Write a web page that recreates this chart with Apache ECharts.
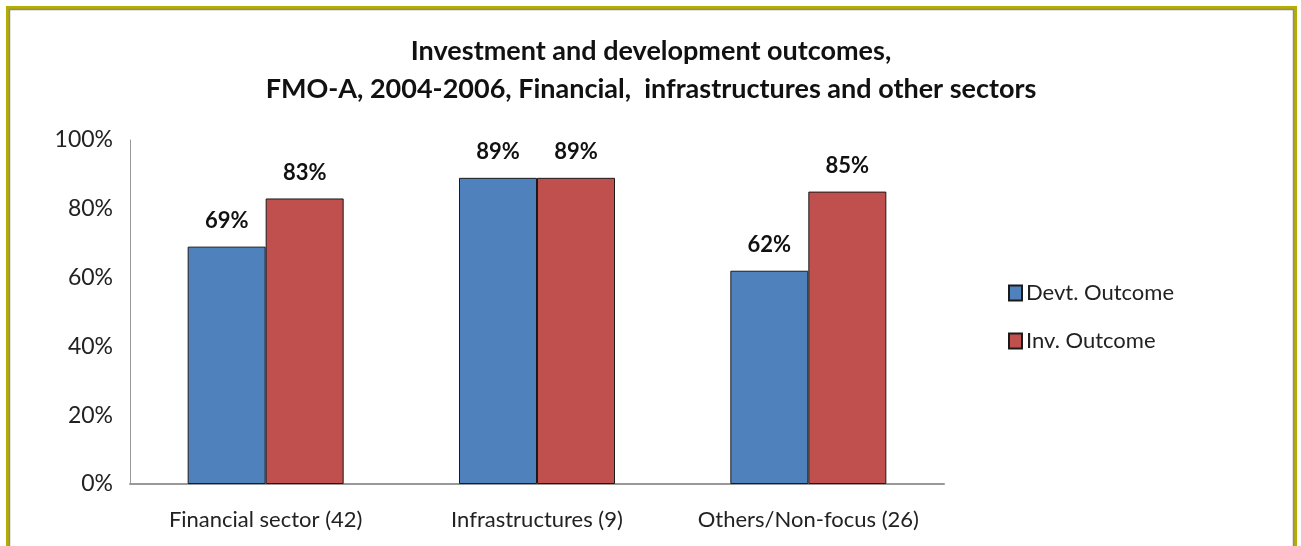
<!DOCTYPE html>
<html>
<head>
<meta charset="utf-8">
<script src="https://cdn.jsdelivr.net/npm/echarts@6/dist/echarts.min.js"></script>
<style>
html,body{margin:0;padding:0;background:#fff;}
#c{width:1301px;height:546px;}
</style>
</head>
<body>
<div id="c"></div>
<script>
var categories = ['Financial sector (42)', 'Infrastructures (9)', 'Others/Non-focus (26)'];
var devtOutcome = [69, 89, 62];
var invOutcome = [83, 89, 85];
var seriesNames = ['Devt. Outcome', 'Inv. Outcome'];
var yTicks = [0, 20, 40, 60, 80, 100];

var font = 'Lato, "Open Sans", sans-serif';
var chart = echarts.init(document.getElementById('c'), null, {renderer: 'canvas'});
var labelCfg = {
  show: true, position: 'top', distance: 15,
  formatter: function (p) { return p.value + '%'; },
  fontFamily: font, fontWeight: 'bold', fontSize: 22, color: '#111'
};
chart.setOption({
  animation: false,
  backgroundColor: '#fff',
  title: {
    text: 'Investment and development outcomes,\nFMO-A, 2004-2006, Financial,  infrastructures and other sectors',
    left: 646, top: 27, textAlign: 'center',
    textStyle: {fontFamily: font, fontWeight: 'bold', fontSize: 27, color: '#111', lineHeight: 38}
  },
  legend: {
    orient: 'vertical', left: 1003, top: 277, itemGap: 26,
    itemWidth: 13, itemHeight: 15, icon: 'rect',
    textStyle: {fontFamily: font, fontSize: 22, color: '#222', padding: [0, 0, 0, -1]},
    data: seriesNames
  },
  grid: {left: 130, right: 357, top: 140, bottom: 62},
  xAxis: {
    type: 'category', data: categories,
    axisLine: {lineStyle: {color: '#999', width: 2}},
    axisTick: {show: false},
    axisLabel: {fontFamily: font, fontSize: 22, color: '#222', margin: 25, interval: 0}
  },
  yAxis: {
    type: 'value', min: 0, max: 100, interval: 20,
    axisLine: {show: true, lineStyle: {color: '#999', width: 1}},
    axisTick: {show: false},
    splitLine: {show: false},
    axisLabel: {fontFamily: font, fontSize: 23, color: '#222', margin: 17,
      formatter: function (v) { return yTicks.indexOf(v) >= 0 ? v + '%' : ''; }}
  },
  series: [
    {name: seriesNames[0], type: 'bar', data: devtOutcome, barWidth: 78, barGap: '0%',
     itemStyle: {color: '#4f81bd', borderColor: '#1a1a1a', borderWidth: 1}, label: labelCfg},
    {name: seriesNames[1], type: 'bar', data: invOutcome, barWidth: 78,
     itemStyle: {color: '#c0504d', borderColor: '#1a1a1a', borderWidth: 1}, label: labelCfg}
  ],
  graphic: [
    {type: 'rect', shape: {x: 7.5, y: 7.5, width: 1288, height: 600},
     style: {fill: 'none', stroke: '#b5ad00', lineWidth: 3}, silent: true},
    {type: 'rect', shape: {x: 9.5, y: 9.5, width: 1284, height: 600},
     style: {fill: 'none', stroke: '#8c8c8c', lineWidth: 1.5}, silent: true}
  ]
});
</script>
</body>
</html>
